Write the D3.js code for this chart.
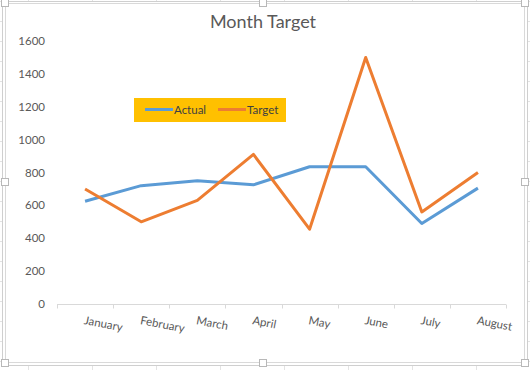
<!doctype html>
<html>
<head>
<meta charset="UTF-8">
<script src="https://d3js.org/d3.v7.min.js"></script>
<style>
  body { margin: 0; background: #fff; }
  svg { display: block; }
</style>
</head>
<body>
<script>
  var months = ["January", "February", "March", "April", "May", "June", "July", "August"];
  var actual = [625, 720, 750, 725, 835, 835, 490, 705];
  var target = [700, 500, 630, 910, 455, 1500, 560, 800];
  var yTicks = [0, 200, 400, 600, 800, 1000, 1200, 1400, 1600];

  var width = 530, height = 370;
  var font = "Lato, 'Open Sans', sans-serif";

  var svg = d3.select("body").append("svg")
    .attr("width", width)
    .attr("height", height);

  // spreadsheet cells behind the chart
  var bg = svg.append("g").attr("stroke", "#e3e3e3").attr("stroke-width", 1);
  d3.range(28, width, 64).forEach(function (x) {
    bg.append("line").attr("x1", x + 0.5).attr("x2", x + 0.5).attr("y1", 0).attr("y2", height);
  });
  d3.range(1, height, 20).forEach(function (y) {
    bg.append("line").attr("x1", 0).attr("x2", width).attr("y1", y + 0.5).attr("y2", y + 0.5);
  });

  // chart area
  svg.append("rect")
    .attr("x", 2.5).attr("y", 1.5)
    .attr("width", 525).attr("height", 364)
    .attr("fill", "#fff").attr("stroke", "#cfcfcf");
  svg.append("rect")
    .attr("x", 5.5).attr("y", 3.5)
    .attr("width", 519).attr("height", 359)
    .attr("fill", "#fff").attr("stroke", "#d9d9d9");

  // handles
  [[5, 3], [263, 3], [525, 3], [5, 182], [525, 182], [5, 363], [263, 363], [525, 363]].forEach(function (p) {
    svg.append("rect")
      .attr("x", p[0] - 3.5).attr("y", p[1] - 3.5)
      .attr("width", 7).attr("height", 7)
      .attr("fill", "#fff").attr("stroke", "#b8b8b8");
  });

  var x = d3.scaleBand().domain(months).range([57, 506]);
  var y = d3.scaleLinear().domain([0, 1600]).range([304, 41]);

  // title
  svg.append("text")
    .attr("x", 263).attr("y", 28)
    .attr("text-anchor", "middle")
    .style("font-family", font)
    .style("font-size", "18px")
    .attr("fill", "#595959")
    .text("Month Target");

  // y labels
  svg.selectAll(".ylab")
    .data(yTicks)
    .enter().append("text")
    .attr("class", "ylab")
    .attr("x", 45)
    .attr("y", function (d) { return y(d); })
    .attr("dy", "0.35em")
    .attr("text-anchor", "end")
    .style("font-family", font)
    .style("font-size", "11.5px")
    .attr("fill", "#595959")
    .text(function (d) { return d; });

  // x axis
  var xAxis = svg.append("g")
    .attr("transform", "translate(0,304.5)")
    .call(d3.axisBottom(x).tickSize(0).tickFormat(""));
  xAxis.select(".domain").attr("stroke", "#d9d9d9").attr("d", "M57,0H506");
  var edges = months.map(function (m) { return x(m); }).concat([506]);
  xAxis.selectAll(".edge")
    .data(edges)
    .enter().append("line")
    .attr("x1", function (d) { return Math.round(d) + 0.5; })
    .attr("x2", function (d) { return Math.round(d) + 0.5; })
    .attr("y1", 0).attr("y2", 4)
    .attr("stroke", "#d9d9d9");

  svg.selectAll(".xlab")
    .data(months)
    .enter().append("text")
    .attr("class", "xlab")
    .attr("transform", function (d) {
      return "translate(" + (x(d) + x.bandwidth() / 2) + ",316) rotate(11)";
    })
    .attr("dy", "0.7em")
    .style("font-family", font)
    .style("font-size", "11.5px")
    .attr("fill", "#595959")
    .text(function (d) { return d; });

  // lines
  var line = d3.line()
    .x(function (d, i) { return x(months[i]) + x.bandwidth() / 2; })
    .y(function (d) { return y(d); });

  svg.append("path")
    .datum(actual)
    .attr("d", line)
    .attr("fill", "none")
    .attr("stroke", "#5B9BD5")
    .attr("stroke-width", 3)
    .attr("stroke-linejoin", "round");

  svg.append("path")
    .datum(target)
    .attr("d", line)
    .attr("fill", "none")
    .attr("stroke", "#ED7D31")
    .attr("stroke-width", 3)
    .attr("stroke-linejoin", "round");

  // legend
  var legend = svg.append("g");
  legend.append("rect")
    .attr("x", 134).attr("y", 98)
    .attr("width", 152).attr("height", 24)
    .attr("fill", "#FFC000");
  var items = [
    { name: "Actual", color: "#5B9BD5", x: 145 },
    { name: "Target", color: "#ED7D31", x: 218 }
  ];
  items.forEach(function (it) {
    legend.append("line")
      .attr("x1", it.x).attr("x2", it.x + 28)
      .attr("y1", 109.5).attr("y2", 109.5)
      .attr("stroke", it.color).attr("stroke-width", 3);
    legend.append("text")
      .attr("x", it.x + 29).attr("y", 110)
      .attr("dy", "0.35em")
      .style("font-family", font)
      .style("font-size", "11.5px")
      .attr("fill", "#404040")
      .text(it.name);
  });
</script>
</body>
</html>
